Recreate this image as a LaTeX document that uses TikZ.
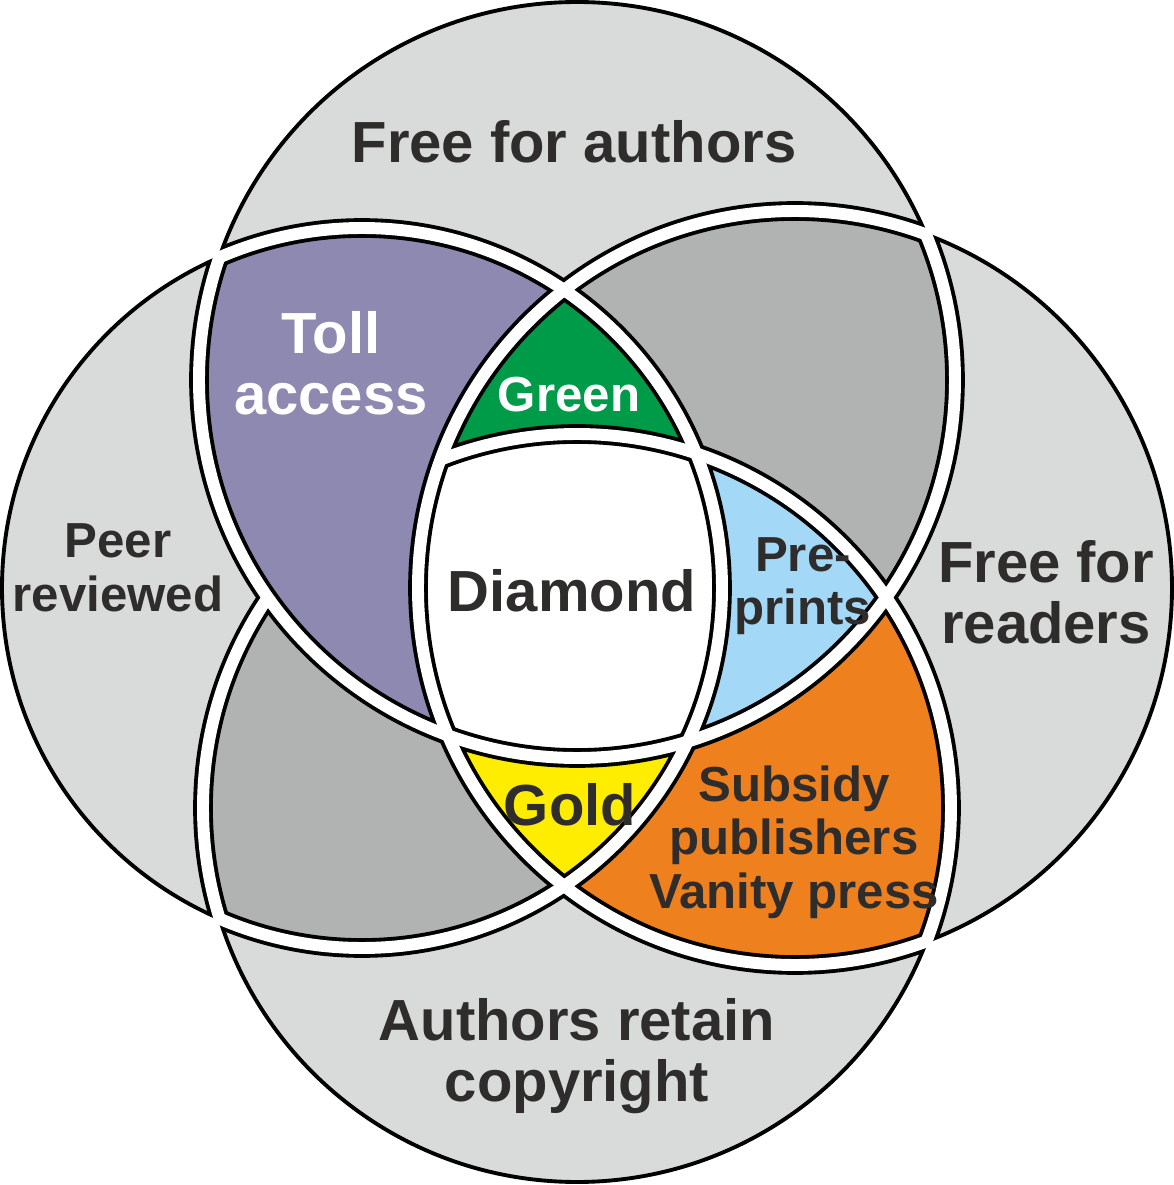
\documentclass[tikz,border=0pt]{standalone}
\usepackage{fontspec}
\setmainfont{Liberation Sans}
\usetikzlibrary{calc}
\definecolor{lightgrey}{HTML}{D9DADA}
\definecolor{darkgrey}{HTML}{B1B2B2}
\definecolor{tollpurple}{HTML}{8E89B1}
\definecolor{greenoa}{HTML}{009B48}
\definecolor{preblue}{HTML}{A3D9F6}
\definecolor{vanityorange}{HTML}{EF801E}
\definecolor{goldoa}{HTML}{FFED00}
\definecolor{labeltext}{HTML}{2E2D2C}
\newcommand{\rTop}{3.78}
\newcommand{\rBot}{3.74}
\newcommand{\rLeft}{3.60}
\newcommand{\rRight}{3.77}
\tikzset{%
  outline/.style={draw=black, line width=1.1pt},
  gapedge/.style={draw=black, line width=5.6pt},
  gapfill/.style={draw=white, line width=3.4pt},
  biglabel/.style={font=\bfseries\fontsize{16.5}{17.3}\selectfont, text=labeltext,
                   align=center, inner sep=0pt},
  smalllabel/.style={font=\bfseries\fontsize{14}{15.2}\selectfont, text=labeltext,
                     align=center, inner sep=0pt},
}

\begin{document}
\begin{tikzpicture}

    \useasboundingbox (0,0) rectangle (11.74,11.85);

    % Define the centres of the four circles
    \coordinate (T) at (5.77,8.05);
    \coordinate (B) at (5.77,3.77);
    \coordinate (L) at (3.62,5.97);
    \coordinate (R) at (7.95,5.97);

    %single regions
    \fill[lightgrey] (T) circle [radius=\rTop] (B) circle [radius=\rBot]
                     (L) circle [radius=\rLeft] (R) circle [radius=\rRight];

    %two circles
    \begin{scope}
      \clip (T) circle [radius=\rTop];
      \fill[darkgrey] (R) circle [radius=\rRight];
    \end{scope}
    \begin{scope}
      \clip (L) circle [radius=\rLeft];
      \fill[darkgrey] (B) circle [radius=\rBot];
    \end{scope}
    \begin{scope}
      \clip (T) circle [radius=\rTop];
      \fill[tollpurple] (L) circle [radius=\rLeft];
    \end{scope}
    \begin{scope}
      \clip (R) circle [radius=\rRight];
      \fill[vanityorange] (B) circle [radius=\rBot];
    \end{scope}

    %three circles
    \begin{scope}
      \clip (T) circle [radius=\rTop];
      \clip (L) circle [radius=\rLeft];
      \fill[greenoa] (R) circle [radius=\rRight];
    \end{scope}
    \begin{scope}
      \clip (T) circle [radius=\rTop];
      \clip (R) circle [radius=\rRight];
      \fill[preblue] (B) circle [radius=\rBot];
    \end{scope}
    \begin{scope}
      \clip (L) circle [radius=\rLeft];
      \clip (R) circle [radius=\rRight];
      \fill[goldoa] (B) circle [radius=\rBot];
    \end{scope}

    %all four
    \begin{scope}
      \clip (T) circle [radius=\rTop];
      \clip (L) circle [radius=\rLeft];
      \clip (R) circle [radius=\rRight];
      \fill[white] (B) circle [radius=\rBot];
    \end{scope}

    %outer edges
    \draw[outline] (T) circle [radius=\rTop];
    \draw[outline] (L) circle [radius=\rLeft];
    \draw[outline] (R) circle [radius=\rRight];
    \begin{scope}
      \clip (0,0) rectangle (11.74,5.875);
      \draw[outline] (B) circle [radius=\rBot];
    \end{scope}

    %black edges of the gaps
    \begin{scope}
      \clip (B) circle [radius=\rBot] (L) circle [radius=\rLeft] (R) circle [radius=\rRight];
      \draw[gapedge] (T) circle [radius=\rTop];
    \end{scope}
    \begin{scope}
      \clip (T) circle [radius=\rTop] (B) circle [radius=\rBot] (R) circle [radius=\rRight];
      \draw[gapedge] (L) circle [radius=\rLeft];
    \end{scope}
    \begin{scope}
      \clip (T) circle [radius=\rTop] (B) circle [radius=\rBot] (L) circle [radius=\rLeft];
      \draw[gapedge] (R) circle [radius=\rRight];
    \end{scope}
    \begin{scope}
      \clip (R) circle [radius=\rRight];
      \draw[gapedge] (B) circle [radius=\rBot];
    \end{scope}
    \begin{scope}
      \clip (0,0) rectangle (11.74,5.875);
      \clip (L) circle [radius=\rLeft];
      \draw[gapedge] (B) circle [radius=\rBot];
    \end{scope}

    %white gaps
    \begin{scope}
      \clip (B) circle [radius=\rBot+0.04] (L) circle [radius=\rLeft+0.04]
            (R) circle [radius=\rRight+0.04];
      \draw[gapfill] (T) circle [radius=\rTop];
    \end{scope}
    \begin{scope}
      \clip (T) circle [radius=\rTop+0.04] (B) circle [radius=\rBot+0.04]
            (R) circle [radius=\rRight+0.04];
      \draw[gapfill] (L) circle [radius=\rLeft];
    \end{scope}
    \begin{scope}
      \clip (T) circle [radius=\rTop+0.04] (B) circle [radius=\rBot+0.04]
            (L) circle [radius=\rLeft+0.04];
      \draw[gapfill] (R) circle [radius=\rRight];
    \end{scope}
    \begin{scope}
      \clip (R) circle [radius=\rRight+0.04];
      \draw[gapfill] (B) circle [radius=\rBot];
    \end{scope}
    \begin{scope}
      \clip (0,0) rectangle (11.74,5.875);
      \clip (L) circle [radius=\rLeft+0.04];
      \draw[gapfill] (B) circle [radius=\rBot];
    \end{scope}

    % labels
    \node[biglabel] (authors) at (5.74,10.43) {Free for authors};
    \node[biglabel, text=white] (toll) at (3.31,8.22) {Toll\\access};
    \node[smalllabel, text=white] (green) at (5.69,7.90) {Green};
    \node[smalllabel] (peer) at (1.18,6.17) {Peer\\reviewed};
    \node[biglabel] (diamond) at (5.72,5.94) {Diamond};
    \node[smalllabel] (preprints) at (8.03,5.99) {Pre-\\prints};
    \node[biglabel] (readers) at (10.46,5.93) {Free for\\readers};
    \node[biglabel] (gold) at (5.70,3.80) {Gold};
    \node[smalllabel] (subsidy) at (7.94,3.43) {Subsidy\\publishers\\Vanity press};
    \node[biglabel] (retain) at (5.77,1.29) {Authors retain\\copyright};

\end{tikzpicture}
\end{document}
